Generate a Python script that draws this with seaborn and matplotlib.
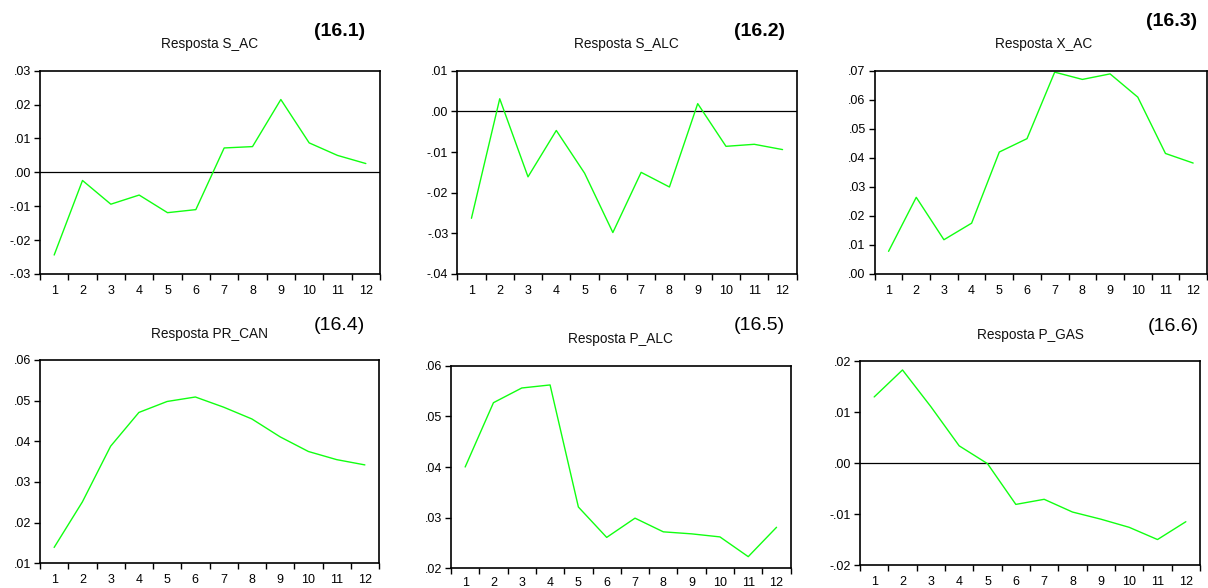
import matplotlib
matplotlib.use("Agg")
import matplotlib.pyplot as plt
from matplotlib.ticker import FixedLocator, FuncFormatter, NullFormatter
import numpy as np
import pandas as pd
import seaborn as sns

sns.set_style("ticks")
plt.rcParams['font.family'] = ['Liberation Sans', 'DejaVu Sans']

periods = list(range(1, 13))

s_ac = [-0.0244, -0.0024, -0.0094, -0.0067, -0.0119, -0.0110,
        0.0072, 0.0076, 0.0215, 0.0087, 0.0050, 0.0026]
s_alc = [-0.0263, 0.0031, -0.0161, -0.0047, -0.0152, -0.0298,
         -0.0150, -0.0186, 0.0019, -0.0086, -0.0081, -0.0094]
x_ac = [0.0078, 0.0264, 0.0118, 0.0175, 0.0420, 0.0466,
        0.0695, 0.0670, 0.0689, 0.0609, 0.0415, 0.0382]
pr_can = [0.0139, 0.0251, 0.0388, 0.0471, 0.0498, 0.0509,
          0.0484, 0.0455, 0.0411, 0.0375, 0.0355, 0.0342]
p_alc = [0.0400, 0.0527, 0.0556, 0.0562, 0.0321, 0.0261,
         0.0299, 0.0272, 0.0268, 0.0262, 0.0223, 0.0281]
p_gas = [0.0130, 0.0183, 0.0111, 0.0034, -0.0001, -0.0081,
         -0.0071, -0.0096, -0.0110, -0.0126, -0.0150, -0.0115]

titles = ["Resposta S_AC", "Resposta S_ALC", "Resposta X_AC",
          "Resposta PR_CAN", "Resposta P_ALC", "Resposta P_GAS"]
panel_labels = ["(16.1)", "(16.2)", "(16.3)", "(16.4)", "(16.5)", "(16.6)"]
series = [s_ac, s_alc, x_ac, pr_can, p_alc, p_gas]
y_limits = [(-0.03, 0.03), (-0.04, 0.01), (0.00, 0.07),
            (0.01, 0.06), (0.02, 0.06), (-0.02, 0.02)]
y_steps = [0.01, 0.01, 0.01, 0.01, 0.01, 0.01]

W, H = 1208, 588
fig = plt.figure(figsize=(W / 100, H / 100), dpi=100)
fig.patch.set_facecolor("white")

# pixel boxes: left, right, top, bottom
boxes = [(40, 380, 70.7, 274), (457.3, 796.7, 70.7, 274), (874.7, 1207, 70.7, 274),
         (40, 379, 360, 563.3), (451, 790.7, 365.7, 568.3), (860, 1200, 361.3, 565)]
title_pos = [(209.3, 44.3), (626.3, 44), (1043.8, 44),
             (209.2, 334), (620.5, 339.3), (1030.7, 335)]
label_pos = [(339.7, 31.7), (759.5, 32), (1171.5, 21.7),
             (339.5, 326), (759.2, 326), (1173.7, 326.7)]
label_bold = [True, True, True, False, False, False]
x_pads = [8, 8, 8, 8, 6, 8]


def fmt(v, pos):
    s = f"{round(v, 4):.2f}"
    if s == "-0.00":
        s = "0.00"
    return s.replace("0.", ".", 1)


for i in range(6):
    l, r, t, b = boxes[i]
    ax = fig.add_axes([l / W, 1 - b / H, (r - l) / W, (b - t) / H])
    df = pd.DataFrame({"period": periods, "value": series[i]})
    sns.lineplot(data=df, x="period", y="value", ax=ax, color="#11ff11",
                 linewidth=1.0)
    lo, hi = y_limits[i]
    ax.set_xlim(0.5, 12.5)
    ax.set_ylim(lo, hi)
    if lo < 0 < hi:
        ax.axhline(0, color="black", linewidth=0.9, zorder=1)
    yt = np.round(np.arange(lo, hi + 1e-9, y_steps[i]), 4)
    ax.yaxis.set_major_locator(FixedLocator(yt))
    ax.yaxis.set_major_formatter(FuncFormatter(fmt))
    ax.xaxis.set_major_locator(FixedLocator(periods))
    ax.xaxis.set_minor_locator(FixedLocator([p - 0.5 for p in periods] + [12.5]))
    ax.xaxis.set_minor_formatter(NullFormatter())
    ax.tick_params(axis="x", which="major", length=0, pad=x_pads[i], labelsize=9,
                   colors="black")
    ax.tick_params(axis="x", which="minor", length=4, width=1.0, direction="out",
                   color="black")
    ax.tick_params(axis="y", which="major", length=4, width=1.0, direction="out",
                   pad=2.5, labelsize=9, colors="black")
    ax.set_xlabel("")
    ax.set_ylabel("")
    for sp in ax.spines.values():
        sp.set_visible(True)
        sp.set_color("black")
        sp.set_linewidth(1.2)
    tx, ty = title_pos[i]
    fig.text(tx / W, 1 - ty / H, titles[i], ha="center", va="center", fontsize=9.8,
             color="#111111")
    px, py = label_pos[i]
    fig.text(px / W, 1 - py / H, panel_labels[i], ha="center", va="center",
             fontsize=14, fontweight="bold" if label_bold[i] else "normal",
             color="black")

fig.savefig("out.png", dpi=100, facecolor="white")
